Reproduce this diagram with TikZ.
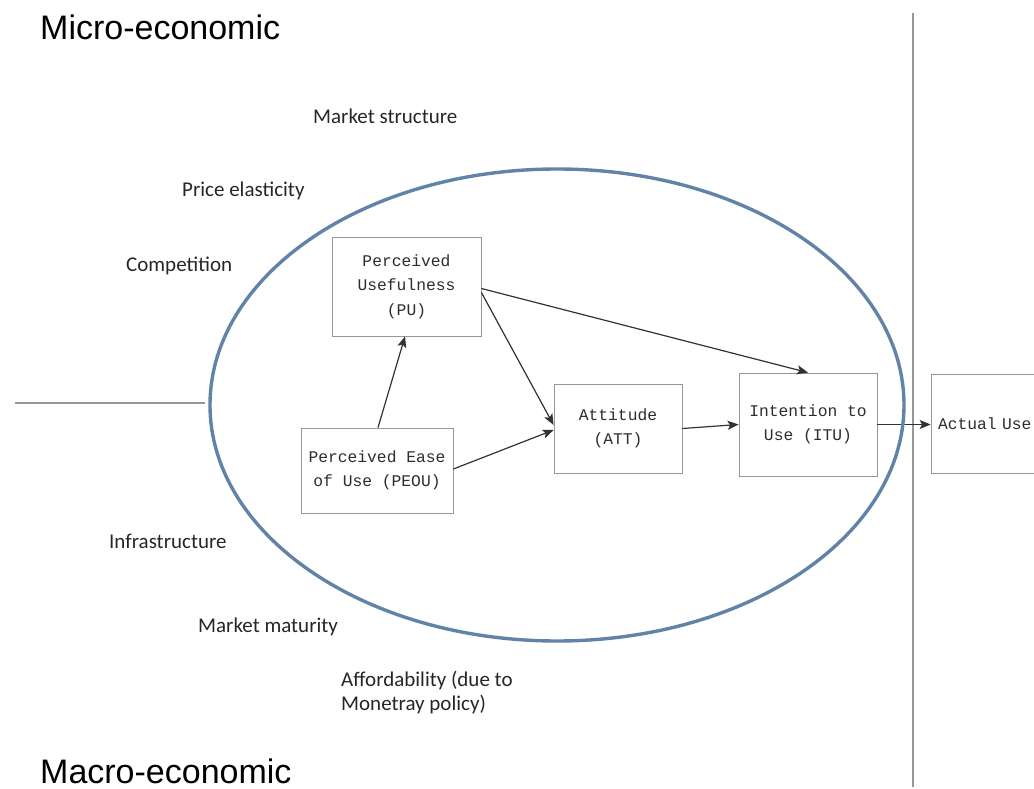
\documentclass[tikz,border=0pt]{standalone}
\usepackage{fontspec}
\setmainfont{Carlito}
\newfontfamily\headfont{Liberation Sans}
\newfontfamily\boxfont{Liberation Mono}
\usetikzlibrary{arrows.meta}

\definecolor{ringblue}{RGB}{98,131,168}
\definecolor{boxline}{RGB}{150,150,150}
\definecolor{boxtext}{RGB}{45,45,45}
\definecolor{linkcol}{RGB}{50,50,50}
\definecolor{rulecol}{RGB}{150,150,150}

\tikzset{
  construct/.style={draw=boxline, line width=0.8pt, rectangle, inner sep=0pt,
    font=\boxfont\fontsize{16.3}{24.5}\selectfont, text=boxtext, align=center},
  factor/.style={anchor=west, inner sep=0pt, text=black!85,
    font=\fontsize{21}{24}\selectfont, align=left},
  heading/.style={anchor=base west, inner sep=0pt, text=black,
    font=\headfont\fontsize{34}{40}\selectfont},
  link/.style={draw=linkcol, line width=1.2pt,
    -{Stealth[length=11pt,width=9pt,inset=2.5pt]}},
  divider/.style={draw=rulecol, line width=1.4pt}
}

\begin{document}
\begin{tikzpicture}[x=1pt, y=-1pt]
\useasboundingbox (0,0) rectangle (1034,789);

% headings
\node[heading] (micro) at (40,40) {Micro-economic};
\node[heading] (macro) at (40,783) {Macro-economic};

% dividing rules
\coordinate (vtop) at (913,13);
\coordinate (vbot) at (913,787);
\draw[divider] (vtop) -- (vbot);
\coordinate (hleft) at (15,403);
\coordinate (hright) at (205,403);
\draw[divider, line width=1.2pt] (hleft) -- (hright);

% environmental factors
\node[factor] (mstruct) at (313,116) {Market structure};
\node[factor] (pelast)  at (182,191) {Price elasticity};
\node[factor] (compet)  at (126,266) {Competition};
\node[factor] (infra)   at (109,541) {Infrastructure};
\node[factor] (mmature) at (198,627) {Market maturity};
\node[factor] (afford)  at (341,693) {Affordability (due to\\Monetray policy)};

% TAM constructs
\node[construct, minimum width=149pt, minimum height=99pt] (pu) at (406.5,286.5)
  {Perceived\\Usefulness\\(PU)};
\node[construct, minimum width=152pt, minimum height=85pt] (peou) at (377,470.5)
  {Perceived Ease\\of Use (PEOU)};
\node[construct, minimum width=128pt, minimum height=89pt] (att) at (618,428.5)
  {Attitude\\(ATT)};
\node[construct, minimum width=138pt, minimum height=103pt] (itu) at (808,424.5)
  {Intention to\\Use (ITU)};
\node[construct, minimum width=114pt, minimum height=99pt, text width=100pt,
  inner xsep=7pt, align=left] (act) at (988,423.5) {Actual Use};

% relations
\draw[link] ([xshift=1pt]peou.north) -- ([xshift=-1.5pt]pu.south);
\draw[link] ([yshift=-2pt]pu.east) -- (itu.north);
\draw[link] ([yshift=-6pt]pu.east) -- ([yshift=3.5pt]att.west);
\draw[link] ([yshift=1.5pt]peou.east) -- ([yshift=-1.5pt]att.west);
\draw[link] (att.east) -- (itu.west);
\draw[link] (itu.east) -- (itu.east -| act.west);

% boundary of the individual level
\draw[ringblue, line width=3.4pt] (557,405) ellipse [x radius=347, y radius=236];
\end{tikzpicture}
\end{document}
